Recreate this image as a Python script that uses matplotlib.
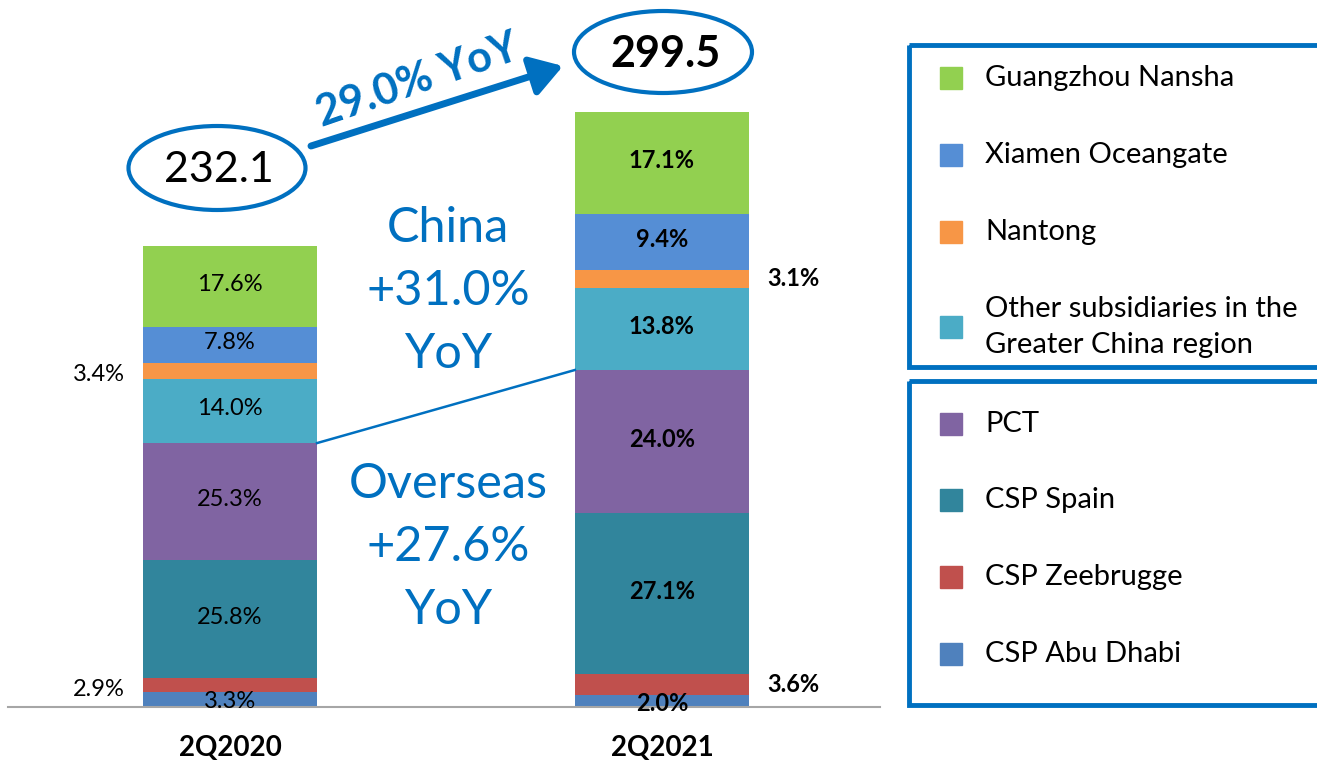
import matplotlib
matplotlib.use("Agg")
import matplotlib.pyplot as plt
from matplotlib.patches import Ellipse, Rectangle

plt.rcParams['font.family'] = ['Lato', 'DejaVu Sans']

# data
periods = ['2Q2020', '2Q2021']
totals = [232.1, 299.5]
terminals = ['CSP Abu Dhabi', 'CSP Zeebrugge', 'CSP Spain', 'PCT',
             'Other subsidiaries in the\nGreater China region', 'Nantong',
             'Xiamen Oceangate', 'Guangzhou Nansha']
share_2020 = [3.3, 2.9, 25.8, 25.3, 14.0, 3.4, 7.8, 17.6]
share_2021 = [2.0, 3.6, 27.1, 24.0, 13.8, 3.1, 9.4, 17.1]
colors = ['#4F81BD', '#C0504D', '#31859C', '#8064A2',
          '#4BACC6', '#F79646', '#558ED5', '#92D050']
yoy_total = '29.0% YoY'
yoy_china = 'China\n+31.0%\nYoY'
yoy_overseas = 'Overseas\n+27.6%\nYoY'
n_overseas = 4

blue = '#0070C0'
W, H = 1317, 761

fig = plt.figure(figsize=(W / 100, H / 100), dpi=100)
ax = fig.add_axes([8 / W, 1 - 707 / H, 872 / W, 707 / H])
ax.set_xlim(-0.514, 1.505)
ax.set_ylim(0, 355.9)
width = 0.403

shares = [share_2020, share_2021]
bounds = []
for i, (tot, sh) in enumerate(zip(totals, shares)):
    vals = [tot * s / sum(sh) for s in sh]
    bottom = 0
    b = []
    weight = 'bold' if i == 1 else 'normal'
    for j, v in enumerate(vals):
        ax.bar(i, v, width, bottom=bottom, color=colors[j], edgecolor='none')
        b.append(bottom)
        lab = f'{sh[j]:.1f}%'
        if j == 0:
            # bottom label centered on segment
            ax.text(i, bottom + v / 2 - 1, lab, ha='center', va='center',
                    fontsize=17, fontweight=weight, color='black')
        elif sh[j] < 4:
            if i == 0:
                ax.text(i - width / 2 - 0.042, bottom + v / 2 - 2, lab, ha='right',
                        va='center', fontsize=17, fontweight=weight)
            else:
                ax.text(i + width / 2 + 0.042, bottom + v / 2, lab, ha='left',
                        va='center', fontsize=17, fontweight=weight)
        else:
            ax.text(i, bottom + v / 2 + 1, lab, ha='center', va='center',
                    fontsize=17, fontweight=weight)
        bottom += v
    bounds.append(b)

# line between overseas / china boundary
ax.plot([0 + width / 2, 1 - width / 2],
        [bounds[0][n_overseas], bounds[1][n_overseas]], color=blue, lw=1.8)

ax.set_xticks([0, 1])
ax.set_xticklabels(periods, fontsize=20, fontweight='bold')
ax.tick_params(axis='x', length=0, pad=20)
ax.set_yticks([])
for s in ['top', 'left', 'right']:
    ax.spines[s].set_visible(False)
ax.spines['bottom'].set_color('#A6A6A6')
ax.spines['bottom'].set_linewidth(1.5)

# overlay in pixel coordinates
ov = fig.add_axes([0, 0, 1, 1], zorder=5)
ov.set_xlim(0, W)
ov.set_ylim(H, 0)
ov.axis('off')
ov.patch.set_alpha(0)

ov.add_patch(Ellipse((217, 168), 177, 84, fill=False, ec=blue, lw=3))
ov.text(219, 170, f'{totals[0]:.1f}', ha='center', va='center', fontsize=31)
ov.add_patch(Ellipse((663, 52), 178, 82, fill=False, ec=blue, lw=3))
ov.text(665, 54, f'{totals[1]:.1f}', ha='center', va='center', fontsize=31,
        fontweight='bold')

ov.annotate('', xy=(563, 66), xytext=(311, 146),
            arrowprops=dict(arrowstyle='-|>,head_length=0.95,head_width=0.6',
                            lw=5, color=blue, mutation_scale=20, shrinkA=0, shrinkB=0))
ov.text(418, 80, yoy_total, ha='center', va='center', rotation=19,
        fontsize=31, fontweight='bold', color=blue)

ov.text(448, 291, yoy_china, ha='center', va='center', fontsize=35,
        color=blue, linespacing=1.52)
ov.text(448, 547, yoy_overseas, ha='center', va='center', fontsize=35,
        color=blue, linespacing=1.52)

# legend boxes
ov.add_patch(Rectangle((909, 45), 430, 322, fill=False, ec=blue, lw=3.5,
                       clip_on=False))
ov.add_patch(Rectangle((909, 381), 430, 324, fill=False, ec=blue, lw=3.5,
                       clip_on=False))
leg_y = [654, 577, 500, 424, 327, 232, 155, 78]
for name, c, y in zip(terminals, colors, leg_y):
    ov.add_patch(Rectangle((940, y - 11), 22, 22, color=c))
    ov.text(985, y, name, ha='left', va='center', fontsize=21,
            linespacing=1.45)

fig.savefig('out.png', dpi=100)
